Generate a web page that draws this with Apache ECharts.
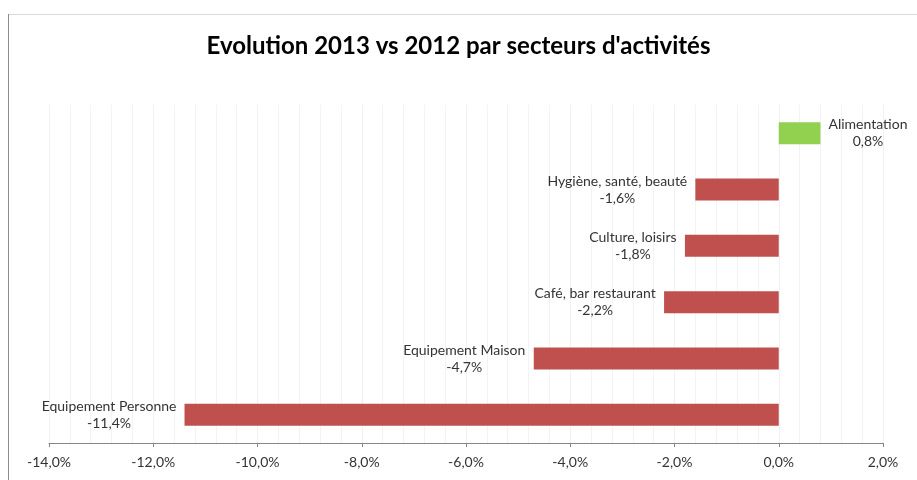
<!DOCTYPE html>
<html>
<head>
<meta charset="utf-8">
<script src="https://cdn.jsdelivr.net/npm/echarts@6/dist/echarts.min.js"></script>
<style>
html,body{margin:0;padding:0;background:#fff;}
#c{width:917px;height:480px;}
</style>
</head>
<body>
<div id="c"></div>
<script>
const titleText = "Evolution 2013 vs 2012 par secteurs d'activités";
const categories = ["Equipement Personne", "Equipement Maison", "Café, bar restaurant", "Culture, loisirs", "Hygiène, santé, beauté", "Alimentation"];
const values = [-11.4, -4.7, -2.2, -1.8, -1.6, 0.8];
const xTickMin = -14, xTickMax = 2, xTickStep = 2;

const FONT = "Lato";
const LABEL_SIZE = 14;
const NEG_COLOR = "#c0504d", POS_COLOR = "#92d050";
const TEXT_COLOR = "#333333";

function fmt(v, d) { return v.toFixed(d).replace('.', ',') + '%'; }

const ctx = document.createElement('canvas').getContext('2d');
ctx.font = LABEL_SIZE + 'px ' + FONT;
function tw(s) { return Math.ceil(ctx.measureText(s).width) + 2; }

const data = values.map((v, i) => {
  const name = categories[i], val = fmt(v, 1);
  const w = Math.max(tw(name), tw(val));
  return {
    value: v,
    itemStyle: { color: v < 0 ? NEG_COLOR : POS_COLOR },
    label: {
      show: true,
      position: v < 0 ? 'left' : 'right',
      distance: 7,
      formatter: '{a|' + name + '}\n{a|' + val + '}',
      rich: { a: { width: w, align: 'center', fontFamily: FONT, fontSize: LABEL_SIZE, color: TEXT_COLOR, lineHeight: 17 } }
    }
  };
});

const chart = echarts.init(document.getElementById('c'));
chart.setOption({
  animation: false,
  backgroundColor: '#fff',
  title: {
    text: titleText, left: 'center', top: 29,
    textStyle: { fontFamily: FONT, fontWeight: 'bold', fontSize: 24, color: '#000' }
  },
  graphic: [
    { type: 'line', shape: { x1: 8, y1: 14.5, x2: 917, y2: 14.5 }, style: { stroke: '#d9d9d9', lineWidth: 1 } },
    { type: 'line', shape: { x1: 8.5, y1: 14, x2: 8.5, y2: 480 }, style: { stroke: '#8c8c8c', lineWidth: 1 } }
  ],
  grid: { left: 49, right: 34, top: 105, bottom: 37 },
  xAxis: {
    type: 'value', min: xTickMin, max: xTickMax, interval: xTickStep,
    axisLine: { show: true, onZero: false, lineStyle: { color: '#868686' } },
    axisTick: { show: true, length: 4, lineStyle: { color: '#868686' } },
    axisLabel: { formatter: v => fmt(v, 1), fontFamily: FONT, fontSize: 14, color: TEXT_COLOR, margin: 12 },
    splitLine: { show: true, lineStyle: { color: '#f1f1f1' } },
    minorTick: { show: false, splitNumber: 5 },
    minorSplitLine: { show: true, lineStyle: { color: '#f3f3f3' } }
  },
  yAxis: {
    type: 'category', data: categories,
    axisLine: { show: false }, axisTick: { show: false }, axisLabel: { show: false },
    splitLine: { show: false }
  },
  series: [{
    type: 'bar', data: data, barWidth: 22
  }]
});
</script>
</body>
</html>
